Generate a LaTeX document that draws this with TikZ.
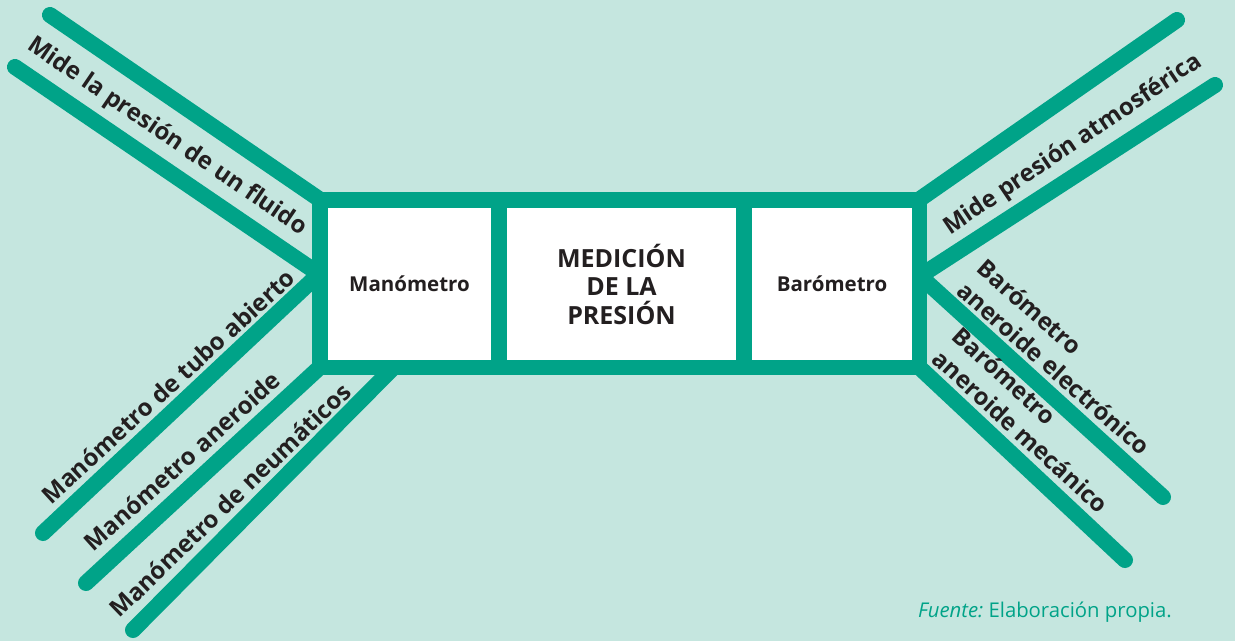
\documentclass[tikz,border=0pt]{standalone}
\usepackage{fontspec}
\setmainfont{Open Sans}
\definecolor{bg}{RGB}{197,230,223}
\definecolor{gr}{RGB}{0,163,136}
\definecolor{ink}{RGB}{35,31,32}
\begin{document}
\begin{tikzpicture}[x=1pt,y=-1pt,
  gline/.style={draw=gr, line width=16pt, line cap=round},
  lbl/.style={font=\bfseries\fontsize{24}{30}\selectfont, text=ink, inner sep=0pt},
  box/.style={fill=white, inner sep=0pt, text=ink, align=center},
  boxtxt/.style={font=\bfseries\fontsize{20.5}{24}\selectfont},
  maintxt/.style={font=\bfseries\fontsize{25}{28.5}\selectfont}]
\fill[bg] (0,0) rectangle (1235,641);
\useasboundingbox (0,0) rectangle (1235,641);
% coordinates
\coordinate (L1a) at (50,15);   \coordinate (L1b) at (319,199);
\coordinate (L2a) at (15,67);   \coordinate (L2b) at (319,274);
\coordinate (L3a) at (43,533);
\coordinate (L4a) at (86,583);  \coordinate (L4b) at (319,368);
\coordinate (L5a) at (133,630); \coordinate (L5b) at (393,368);
\coordinate (R1a) at (1177,20); \coordinate (R1b) at (920,199);
\coordinate (R2a) at (1215,85); \coordinate (R2b) at (920,276);
\coordinate (R3a) at (1163,497);
\coordinate (R4a) at (1125,560);\coordinate (R4b) at (920,368);
% lines
\draw[gline] (L1a) -- (L1b);
\draw[gline] (L2a) -- (L2b);
\draw[gline] (L3a) -- (L2b);
\draw[gline] (L4a) -- (L4b);
\draw[gline] (L5a) -- (L5b);
\draw[gline] (R1a) -- (R1b);
\draw[gline] (R2a) -- (R2b);
\draw[gline] (R3a) -- (R2b);
\draw[gline] (R4a) -- (R4b);
% frame
\fill[gr] (312,192) rectangle (927,375);
\node[box, boxtxt, minimum width=163pt, minimum height=152pt] (man) at (409.5,284) {Manómetro};
\node[box, maintxt, minimum width=229pt, minimum height=152pt] (med) at (621.5,284) {MEDICIÓN\\DE LA\\PRESIÓN};
\node[box, boxtxt, minimum width=160pt, minimum height=152pt] (bar) at (832,284) {Barómetro};
% labels
\node[lbl, rotate=-34.3] (t1) at (167,137) {Mide la presión de un fluido};
\node[lbl, rotate=42.5] (t2) at (168,386) {Manómetro de tubo abierto};
\node[lbl, rotate=42] (t3) at (182,461) {Manómetro aneroide};
\node[lbl, rotate=44] (t4) at (230,500) {Manómetro de neumáticos};
\node[lbl, rotate=34] (t5) at (1073,145) {Mide presión atmosférica};
\node[lbl, rotate=-41.5, align=left] (t6) at (1064,357) {Barómetro\\aneroide electrónico};
\node[lbl, rotate=-42.4, align=left] (t7) at (1031,420) {Barómetro\\aneroide mecánico};
\node[anchor=base east, text=gr, font=\fontsize{20.3}{22}\selectfont, inner sep=0pt] (src) at (1172,617) {{\itshape Fuente:}\ Elaboración propia.};
\end{tikzpicture}
\end{document}
